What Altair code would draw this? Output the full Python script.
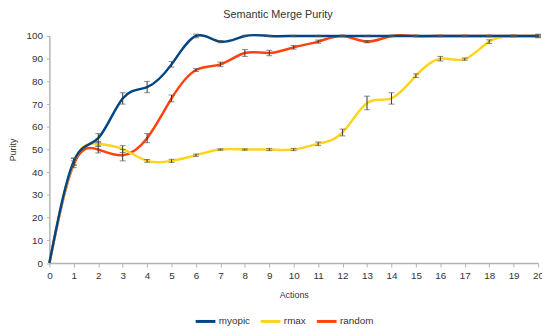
import altair as alt
import pandas as pd

actions = list(range(21))
series_names = ["myopic", "rmax", "random"]
series_colors = ["#004586", "#ffd320", "#ff420e"]

myopic = [0, 44.8, 55, 72.5, 77.5, 87.5, 100, 97.5, 100, 100, 100, 100, 100, 100, 100, 100, 100, 100, 100, 100, 100]
myopic_err = [0, 1.5, 2, 2.5, 2.5, 1.2, 0.8, 0.5, 0.3, 0.3, 0.3, 0.3, 0.3, 0.3, 0.3, 0.3, 0.3, 0.3, 0.3, 0.3, 0.8]

rmax = [0, 44.5, 52.5, 50.2, 45, 45, 47.5, 50, 50, 50, 50, 52.5, 57.5, 70.5, 72.5, 82.5, 90, 89.8, 97.5, 100, 100]
rmax_err = [0, 1.5, 1, 1.5, 0.6, 0.7, 0.5, 0.3, 0.3, 0.5, 0.5, 0.8, 1.5, 3, 2.5, 0.8, 1, 0.5, 0.8, 0.3, 0.5]

random_ = [0, 43.5, 50, 47.5, 55, 72.5, 85, 87.5, 92.5, 92.5, 95, 97.5, 100, 97.5, 100, 100, 100, 100, 100, 100, 100]
random_err = [0, 1.5, 1.5, 2.5, 2, 1.5, 0.6, 1, 1.5, 1.2, 0.8, 0.7, 0.3, 0.5, 0.3, 0.3, 0.3, 0.3, 0.3, 0.3, 0.3]

y_ticks = list(range(0, 101, 10))

rows = []
for name, vals, errs in [("random", random_, random_err), ("rmax", rmax, rmax_err), ("myopic", myopic, myopic_err)]:
    for a, v, e in zip(actions, vals, errs):
        rows.append(dict(series=name, actions=a, purity=v, err=e, lo=v - e, hi=v + e))
df = pd.DataFrame(rows)

FONT = "Liberation Sans"

x_axis = alt.Axis(values=actions, title="Actions", labelFontSize=10,
                  titleFontSize=9, titlePadding=10, tickSize=4,
                  labelPadding=4, labelFlush=False, labelOverlap=False)
y_axis = alt.Axis(values=y_ticks, title="Purity",
                  labelFontSize=10, titleFontSize=9, titlePadding=9,
                  tickSize=3, labelPadding=4, labelOverlap=False)
x_scale = alt.Scale(domain=[0, 20], nice=False)
y_scale = alt.Scale(domain=[0, 100], nice=False)

x_enc = alt.X("actions:Q", scale=x_scale, axis=x_axis)
y_enc = alt.Y("purity:Q", scale=y_scale, axis=y_axis)
color_enc = alt.Color("series:N", scale=alt.Scale(domain=series_names, range=series_colors),
                      legend=alt.Legend(title=None, orient="none", legendX=147, legendY=278,
                                        direction="horizontal", symbolType="stroke",
                                        symbolSize=400, symbolStrokeWidth=3,
                                        labelFontSize=10, labelFont=FONT, labelColor="#333",
                                        columnPadding=4, labelOffset=2, padding=0))

layers = []
for name in ["random", "rmax", "myopic"]:
    layers.append(
        alt.Chart(df).transform_filter(alt.datum.series == name)
        .mark_line(interpolate="natural", strokeWidth=2.5)
        .encode(x=x_enc, y=y_enc, color=color_enc)
    )

eb = alt.Chart(df).transform_filter(alt.datum.err > 0)
rules = eb.mark_rule(color="#333", strokeWidth=1).encode(
    x=alt.X("actions:Q", scale=x_scale, axis=x_axis),
    y=alt.Y("lo:Q", scale=y_scale, axis=y_axis), y2="hi:Q")
cap_lo = eb.mark_tick(color="#555", orient="horizontal", size=6, thickness=1).encode(
    x=alt.X("actions:Q", scale=x_scale, axis=x_axis),
    y=alt.Y("lo:Q", scale=y_scale, axis=y_axis))
cap_hi = eb.mark_tick(color="#555", orient="horizontal", size=6, thickness=1).encode(
    x=alt.X("actions:Q", scale=x_scale, axis=x_axis),
    y=alt.Y("hi:Q", scale=y_scale, axis=y_axis))

chart = alt.layer(*layers, rules, cap_lo, cap_hi).properties(
    width=496, height=230.5,
    autosize=alt.AutoSizeParams(type="none"),
    padding={"left": 42, "top": 26, "right": 4, "bottom": 62},
    title=alt.Title("Semantic Merge Purity", fontSize=11, font=FONT, fontWeight="normal",
                    color="#333", offset=10.5, dx=-16),
).configure_view(stroke=None).configure_axis(
    grid=False, labelFont=FONT, titleFont=FONT, labelColor="#333", titleColor="#333",
    titleFontWeight="normal", domainColor="#b3b3b3", tickColor="#b3b3b3", domainWidth=1.5,
    labelOverlap=False,
)

chart.save("out.html", embed_options={"renderer": "svg", "actions": False})
